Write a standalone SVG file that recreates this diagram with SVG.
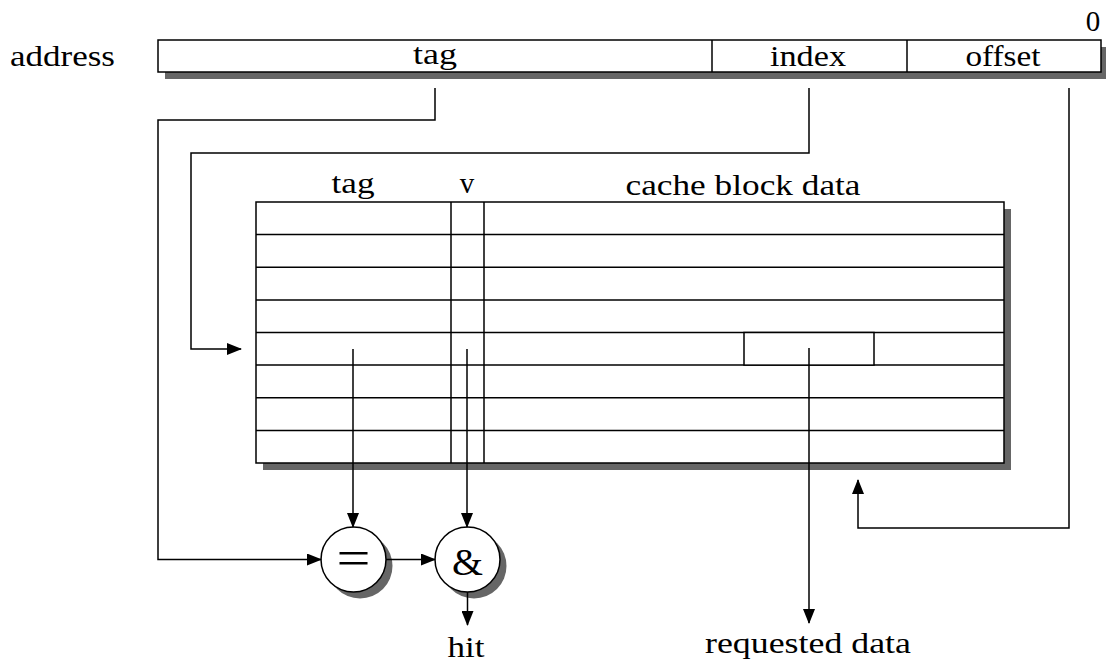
<svg xmlns="http://www.w3.org/2000/svg" width="1106" height="662" viewBox="0 0 1106 662">
  <style>
    text { font-family: "Liberation Serif", "Times New Roman", serif; font-size: 29px; fill: #000; }
    .box { fill: #fff; stroke: #000; stroke-width: 1.5; }
    .shadow { fill: #666; stroke: none; }
    .ln { fill: none; stroke: #000; stroke-width: 1.5; }
    .wire { fill: none; stroke: #000; stroke-width: 1.5; }
    .arrow { marker-end: url(#head); }
  </style>
  <defs>
    <marker id="head" markerUnits="userSpaceOnUse" markerWidth="15" markerHeight="12" refX="14" refY="6" orient="auto">
      <path d="M0,0 L15,6 L0,12 Z" fill="#000"/>
    </marker>
  </defs>

  <rect width="1106" height="662" fill="#fff"/>

  <!-- address register: tag | index | offset -->
  <g id="address">
    <text x="10" y="66" textLength="105" lengthAdjust="spacingAndGlyphs">address</text>
    <text x="1093" y="31" text-anchor="middle">0</text>
    <rect class="shadow" x="165" y="47" width="943" height="32"/>
    <rect class="box" x="158" y="40" width="943" height="32"/>
    <line class="ln" x1="712" y1="40" x2="712" y2="72"/>
    <line class="ln" x1="907" y1="40" x2="907" y2="72"/>
    <text x="435" y="64" text-anchor="middle" textLength="44" lengthAdjust="spacingAndGlyphs">tag</text>
    <text x="808" y="66" text-anchor="middle" textLength="76" lengthAdjust="spacingAndGlyphs">index</text>
    <text x="1003" y="66" text-anchor="middle" textLength="75" lengthAdjust="spacingAndGlyphs">offset</text>
  </g>

  <!-- cache array: 8 lines of tag, valid bit and block data -->
  <g id="cache">
    <text x="353" y="193" text-anchor="middle" textLength="43" lengthAdjust="spacingAndGlyphs">tag</text>
    <text x="467" y="193" text-anchor="middle">v</text>
    <text x="743" y="195" text-anchor="middle" textLength="235" lengthAdjust="spacingAndGlyphs">cache block data</text>
    <rect class="shadow" x="263" y="209" width="748" height="261"/>
    <rect class="box" x="256" y="202" width="748" height="261"/>
    <g class="ln">
      <line x1="256" y1="234.6" x2="1004" y2="234.6"/>
      <line x1="256" y1="267.25" x2="1004" y2="267.25"/>
      <line x1="256" y1="299.9" x2="1004" y2="299.9"/>
      <line x1="256" y1="332.5" x2="1004" y2="332.5"/>
      <line x1="256" y1="365.1" x2="1004" y2="365.1"/>
      <line x1="256" y1="397.75" x2="1004" y2="397.75"/>
      <line x1="256" y1="430.4" x2="1004" y2="430.4"/>
      <line x1="451" y1="202" x2="451" y2="463"/>
      <line x1="484" y1="202" x2="484" y2="463"/>
    </g>
    <!-- selected word inside the indexed block -->
    <rect class="box" x="744" y="332.5" width="130" height="32.6"/>
  </g>

  <!-- tag comparator -->
  <g id="compare">
    <circle class="shadow" cx="360" cy="566" r="32.5"/>
    <circle class="box" cx="353.5" cy="559.5" r="32.5"/>
    <text x="353.5" y="575" text-anchor="middle" style="font-size:50px" textLength="34" lengthAdjust="spacingAndGlyphs">=</text>
  </g>

  <!-- valid AND match -->
  <g id="and">
    <circle class="shadow" cx="474" cy="566" r="32.5"/>
    <circle class="box" cx="467.5" cy="559.5" r="32.5"/>
    <text x="467.5" y="575" text-anchor="middle" style="font-size:37px" textLength="31" lengthAdjust="spacingAndGlyphs">&amp;</text>
  </g>

  <g id="outputs">
    <text x="466" y="657" text-anchor="middle" textLength="37" lengthAdjust="spacingAndGlyphs">hit</text>
    <text x="808" y="653" text-anchor="middle" textLength="206" lengthAdjust="spacingAndGlyphs">requested data</text>
  </g>

  <g id="connectors">
    <!-- address tag to comparator -->
    <polyline class="wire arrow" points="435,88 435,120 158,120 158,559.5 321,559.5"/>
    <!-- index selects a line -->
    <polyline class="wire arrow" points="809,88 809,153 191,153 191,349 241,349"/>
    <!-- offset selects the word -->
    <polyline class="wire arrow" points="1069,88 1069,528 858,528 858,480"/>
    <!-- stored tag and valid bit -->
    <polyline class="wire arrow" points="353,349 353,527"/>
    <polyline class="wire arrow" points="467,349 467,527"/>
    <!-- comparator to AND -->
    <polyline class="wire arrow" points="386,559.5 435,559.5"/>
    <!-- AND to hit -->
    <polyline class="wire arrow" points="467.5,592 467.5,625"/>
    <!-- selected word out -->
    <polyline class="wire arrow" points="809,348 809,623"/>
  </g>
</svg>
